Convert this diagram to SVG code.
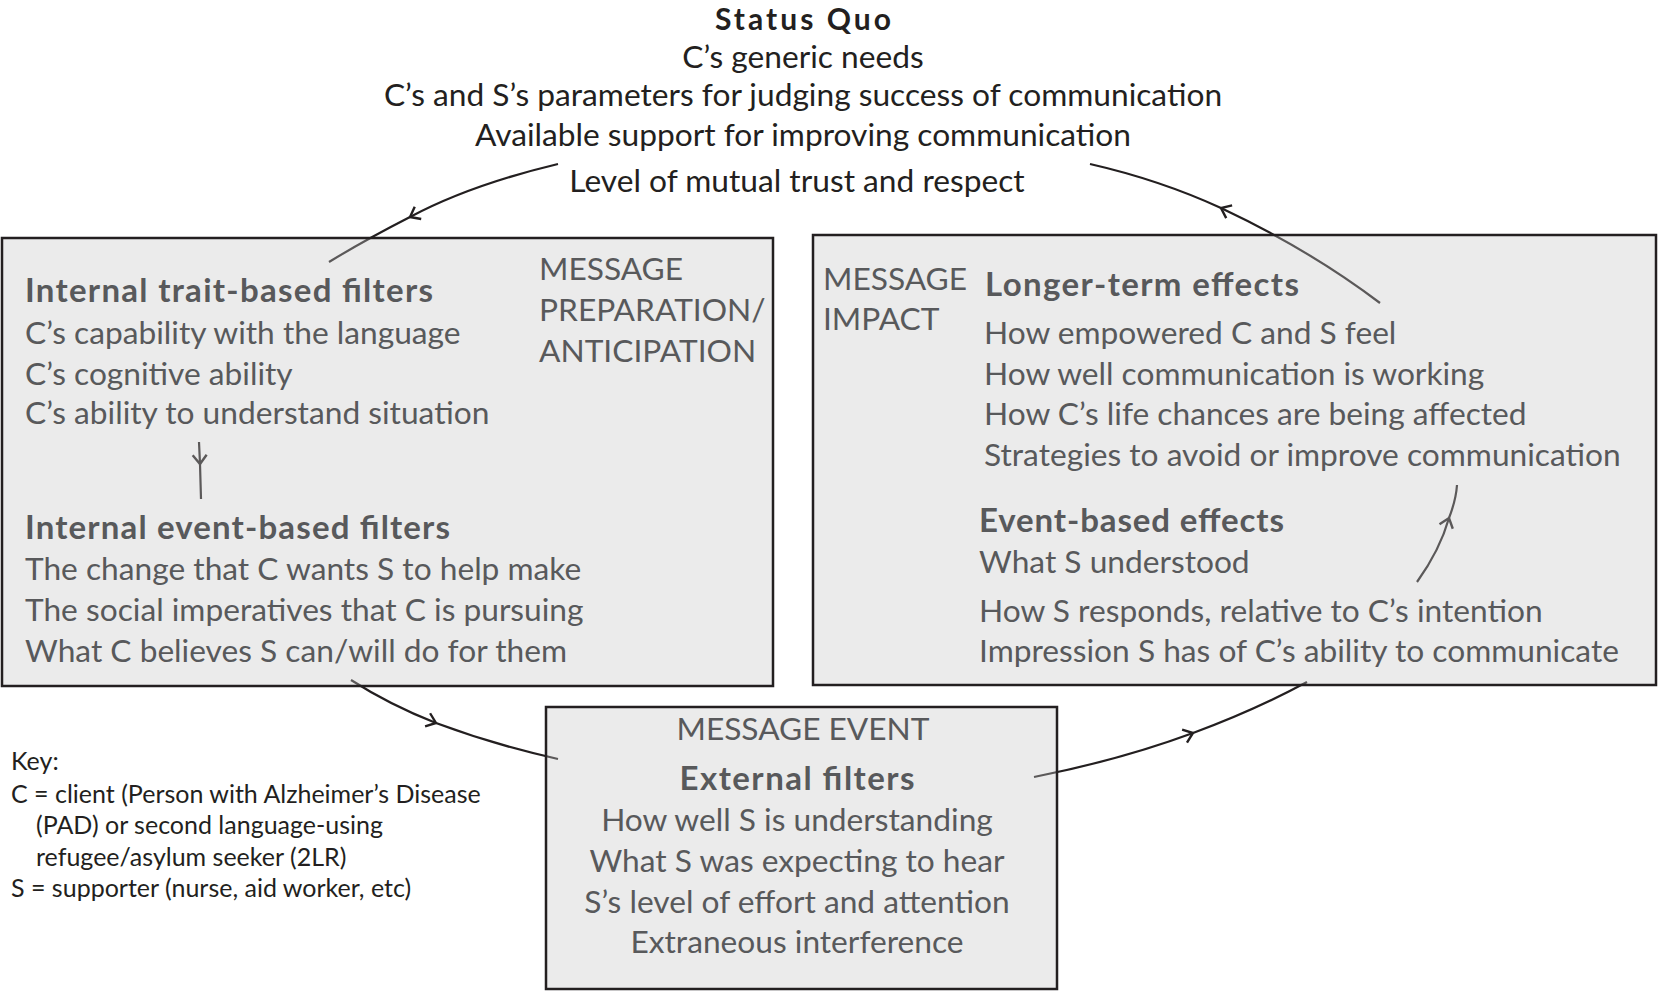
<svg xmlns="http://www.w3.org/2000/svg" width="1658" height="991" viewBox="0 0 1658 991">
<defs>
<marker id="chev" markerUnits="userSpaceOnUse" markerWidth="24" markerHeight="24" viewBox="-12 -12 24 24" refX="0" refY="0" orient="auto">
<path d="M-9,-7 L0,0 L-9,7" fill="none" stroke="#231f20" stroke-width="2.4"/>
</marker>
</defs>
<style>
.t{font-family:Lato,"Liberation Sans",sans-serif;font-size:31.7px;fill:#231f20}
.g{font-family:Lato,"Liberation Sans",sans-serif;font-size:31.7px;fill:#58595b}
.b{font-weight:bold;font-size:33px}
.sq{font-size:30px}
.k{font-family:Lato,"Liberation Sans",sans-serif;font-size:25px;fill:#231f20}
.c{text-anchor:middle}
.box{fill:#c6c7c6;fill-opacity:0.35;stroke:#231f20;stroke-width:2.5}
.conn{fill:none;stroke:#231f20;stroke-width:2.2}
</style>
<g id="connectors">
<path class="conn" d="M558,164 Q470,185 410,217 Q365,240 329,262" marker-mid="url(#chev)"/>
<path class="conn" d="M1380,303 Q1310,250 1221,208 Q1160,180 1090,164" marker-mid="url(#chev)"/>
<path class="conn" d="M351,680 Q390,705 436,723 Q495,745 558,759" marker-mid="url(#chev)"/>
<path class="conn" d="M1034,777 Q1120,760 1193,733 Q1255,710 1307,682" marker-mid="url(#chev)"/>
<path class="conn" d="M1417,582 Q1440,550 1449,518 Q1456,500 1457,485" marker-mid="url(#chev)"/>
<path class="conn" d="M199,442 L200,464 L201,499" marker-mid="url(#chev)"/>
</g>
<g id="status-quo">
<text class="t c b sq" x="803" y="30" textLength="176" lengthAdjust="spacing">Status Quo</text>
<text class="t c" x="803" y="68">C’s generic needs</text>
<text class="t c" x="803" y="106">C’s and S’s parameters for judging success of communication</text>
<text class="t c" x="803" y="146">Available support for improving communication</text>
<text class="t c" x="797" y="192">Level of mutual trust and respect</text>
</g>
<g id="message-preparation">
<rect class="box" x="2" y="238" width="771" height="448"/>
<text class="g" x="539" y="280">MESSAGE</text>
<text class="g" x="539" y="321">PREPARATION/</text>
<text class="g" x="539" y="362">ANTICIPATION</text>
<text class="g b" x="25" y="302" textLength="408" lengthAdjust="spacing">Internal trait-based filters</text>
<text class="g" x="25" y="344">C’s capability with the language</text>
<text class="g" x="25" y="385">C’s cognitive ability</text>
<text class="g" x="25" y="424">C’s ability to understand situation</text>
<text class="g b" x="25" y="539" textLength="425" lengthAdjust="spacing">Internal event-based filters</text>
<text class="g" x="25" y="580">The change that C wants S to help make</text>
<text class="g" x="25" y="621">The social imperatives that C is pursuing</text>
<text class="g" x="25" y="662">What C believes S can/will do for them</text>
</g>
<g id="message-impact">
<rect class="box" x="813" y="235" width="843" height="450"/>
<text class="g" x="823" y="290">MESSAGE</text>
<text class="g" x="823" y="330">IMPACT</text>
<text class="g b" x="985" y="296" textLength="314" lengthAdjust="spacing">Longer-term effects</text>
<text class="g" x="984" y="344">How empowered C and S feel</text>
<text class="g" x="984" y="385">How well communication is working</text>
<text class="g" x="984" y="425">How C’s life chances are being affected</text>
<text class="g" x="984" y="466">Strategies to avoid or improve communication</text>
<text class="g b" x="979" y="532" textLength="305" lengthAdjust="spacing">Event-based effects</text>
<text class="g" x="979" y="573">What S understood</text>
<text class="g" x="979" y="622">How S responds, relative to C’s intention</text>
<text class="g" x="979" y="662">Impression S has of C’s ability to communicate</text>
</g>
<g id="message-event">
<rect class="box" x="546" y="707" width="511" height="282"/>
<text class="g c" x="803" y="740">MESSAGE EVENT</text>
<text class="g c b" x="797" y="790" textLength="235" lengthAdjust="spacing">External filters</text>
<text class="g c" x="797" y="831">How well S is understanding</text>
<text class="g c" x="797" y="872">What S was expecting to hear</text>
<text class="g c" x="797" y="913">S’s level of effort and attention</text>
<text class="g c" x="797" y="953">Extraneous interference</text>
</g>
<g id="key">
<text class="k" x="11" y="770">Key:</text>
<text class="k" x="11" y="803">C = client (Person with Alzheimer’s Disease</text>
<text class="k" x="36" y="834">(PAD) or second language-using</text>
<text class="k" x="36" y="866">refugee/asylum seeker (2LR)</text>
<text class="k" x="11" y="897">S = supporter (nurse, aid worker, etc)</text>
</g>
</svg>
